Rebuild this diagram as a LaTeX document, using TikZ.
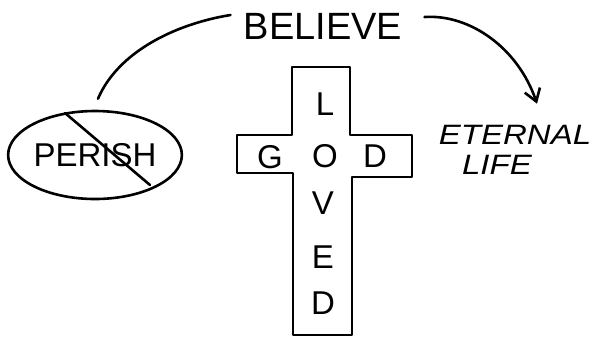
\documentclass[tikz,border=0pt]{standalone}
\usepackage{fontspec}
\setmainfont{Liberation Sans}
\usetikzlibrary{shapes.geometric,arrows.meta,calc}
\begin{document}
\begin{tikzpicture}[x=1pt,y=-1pt,line width=2.6pt,line join=round,line cap=round,
  lab/.style={inner sep=0pt,font=\fontsize{33}{33}\selectfont},
  hand/.style={inner sep=0pt,font=\fontsize{38}{38}\selectfont},
  life/.style={inner sep=0pt,text height=20pt,text depth=0pt,
    font=\fontsize{28}{28}\selectfont\itshape,xscale=1.18}]
\useasboundingbox (0,0) rectangle (599,341);
% cross
\draw (292,67) -- (350,67) -- (350,135) -- (412,135) -- (412,177) -- (352,177)
  -- (352,335) -- (293,335) -- (293,173) -- (237,173) -- (237,135) -- (292,135) -- cycle;
\node[lab] (L) at (325,104) {L};
\node[lab] (O) at (325,156) {O};
\node[lab] (V) at (323,203) {V};
\node[lab] (E) at (323,257) {E};
\node[lab] (D) at (323,303) {D};
\node[lab] (G) at (270,157) {G};
\node[lab] (D2) at (375,156) {D};
% perish
\node[draw,ellipse,minimum width=162pt,minimum height=88pt,inner sep=0pt,
  font=\fontsize{33}{33}\selectfont] (perish) at (95,155) {PERISH};
\draw ($(perish.center)+(-30,-42)$) -- ($(perish.center)+(55,30)$);
% believe
\node[hand] (believe) at (323,26) {BELIEVE};
% eternal life
\node[life] (eternal) at (515,134) {ETERNAL};
\node[life] (lifeword) at (497,164) {LIFE};
% connectors
\draw ($(perish.north)+(3,-11)$) .. controls (118,52) and (175,24) .. ($(believe.west)+(-12,-11)$);
\draw[-{Straight Barb[length=12pt,width=16pt]}] ($(believe.east)+(21,-9)$)
  .. controls (470,14) and (518,48) .. ($(eternal.north)+(22,-19)$);
\end{tikzpicture}
\end{document}
